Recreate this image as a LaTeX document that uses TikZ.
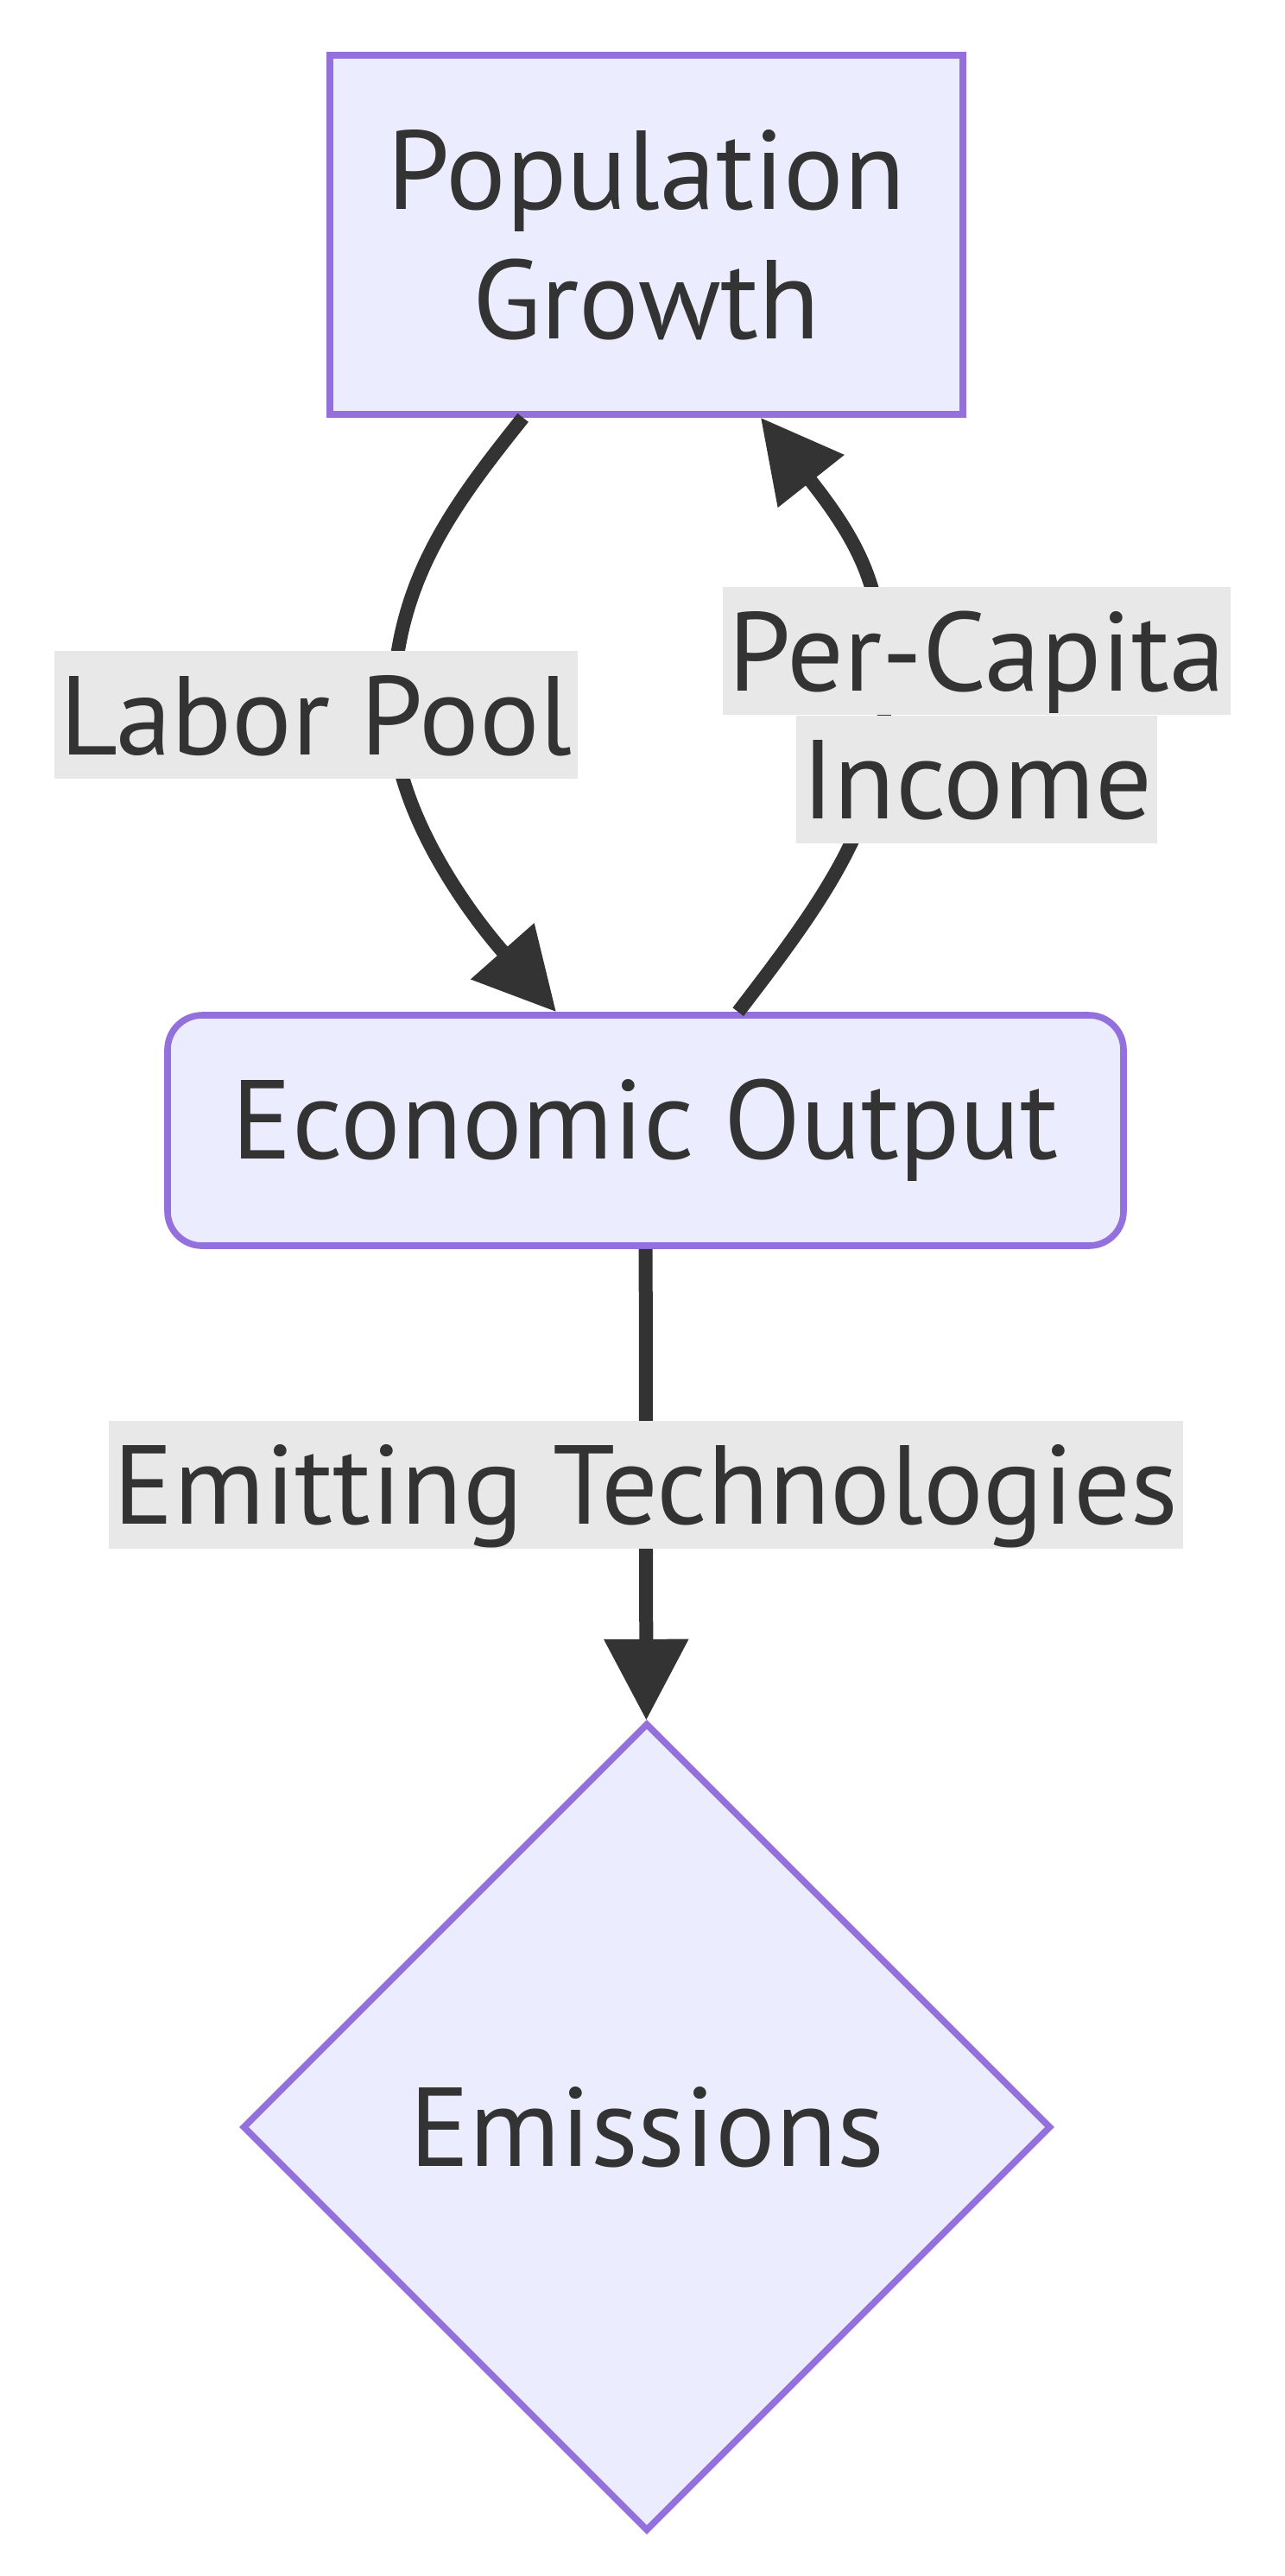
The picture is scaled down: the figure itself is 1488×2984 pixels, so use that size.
\documentclass[tikz,border=0pt]{standalone}
\usepackage{fontspec}
\setmainfont{PT Sans}
\usetikzlibrary{arrows.meta,positioning,shapes.geometric}

\definecolor{nodefill}{HTML}{ECECFF}
\definecolor{nodeline}{HTML}{9370DB}
\definecolor{ink}{HTML}{333333}
\definecolor{edgebg}{HTML}{E8E8E8}

\begin{document}
\begin{tikzpicture}[x=0.5pt,y=-0.5pt,
		box/.style={draw=nodeline,fill=nodefill,line width=3.8pt,text=ink,
			font=\fontsize{65}{75}\selectfont,align=center,inner sep=0pt},
		flow/.style={draw=ink,line width=8pt,-{Triangle[length=47pt,width=47pt]}},
		edgelabel/.style={fill=edgebg,text=ink,font=\fontsize{65}{75}\selectfont,
			inner xsep=3pt,inner ysep=0pt,text height=60pt,text depth=14pt}]
			\useasboundingbox (0,0) rectangle (1488,2984);
			
			% Nodes
			\node[box,minimum width=366.5pt,minimum height=208pt] (pop) at (748.5,272) {Population\\Growth};
			\node[box,rounded corners=20pt,minimum width=553.5pt,minimum height=133.5pt] (econ) at (747.5,1309.5) {Economic Output};
			\node[box,diamond,minimum width=468pt,minimum height=468pt] (emis) at (749,2464) {Emissions};
			
			% Feedback loop between population and output
			\draw[flow] (pop.236.1) .. controls (521,590) and (455,678) .. (455,828)
			.. controls (455,938) and (543,1058) .. (econ.127.5);
			\draw[flow] (econ.52.2) .. controls (946,1053) and (1024,950) .. (1024,820)
			.. controls (1024,700) and (1011,648) .. (pop.302.4);
			
			% Output to emissions
			\draw[flow] (econ) -- node[edgelabel] (emit) {Emitting Technologies} (emis);
			
			% Edge labels
			\node[edgelabel] (labor) at (366,828) {Labor Pool};
			\node[edgelabel] (pcitop) at (1131,754) {Per-Capita};
			\node[edgelabel,below=0pt of pcitop] (pcibot) {Income};
			
		\end{tikzpicture}
\end{document}
